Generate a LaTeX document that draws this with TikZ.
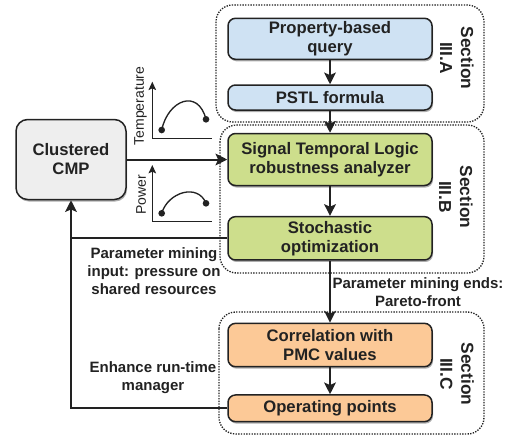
\documentclass[tikz,border=0pt]{standalone}
\usepackage{fontspec}
\setmainfont{Liberation Sans}
\usetikzlibrary{arrows.meta,shadows,calc}
\definecolor{bluefill}{HTML}{CFE2F3}
\definecolor{greenfill}{HTML}{CDDE8C}
\definecolor{orangefill}{HTML}{FCC997}
\definecolor{grayfill}{HTML}{EEEEEE}
\definecolor{ink}{HTML}{222222}
\begin{document}
\begin{tikzpicture}[x=0.6pt,y=-0.6pt,
  box/.style={draw=ink, line width=0.9pt, rounded corners=4.5pt, align=center,
    font=\fontsize{10}{11.4}\selectfont\bfseries, text=ink, inner sep=0pt,
    minimum width=122.4pt,
    drop shadow={shadow xshift=0.6pt, shadow yshift=-1.2pt, fill=black!45, opacity=0.7}},
  conn/.style={draw=ink, line width=1.2pt, -{Stealth[length=7pt,width=7pt,inset=1.5pt]}},
  plainline/.style={draw=ink, line width=1.2pt},
  axisline/.style={draw=ink, line width=0.8pt, -{Stealth[length=5pt,width=4.5pt,inset=1pt]}},
  curveline/.style={draw=ink, line width=0.8pt},
  dotmark/.style={fill=ink},
  section/.style={draw=ink, line width=0.8pt, dash pattern=on 0.8pt off 0.8pt, rounded corners=10pt},
  seclabel/.style={rotate=-90, align=center, text=ink, font=\fontsize{10.4}{12.6}\selectfont\bfseries},
  note/.style={align=center, text=ink, font=\fontsize{9}{10.7}\selectfont\bfseries},
  axlabel/.style={rotate=90, text=ink, font=\fontsize{8.4}{10}\selectfont}
]
\useasboundingbox (0,0) rectangle (509,439);

% section frames
\draw[section] (216,5) rectangle (484,122);
\draw[section] (220,125) rectangle (484,273);
\draw[section] (219,312) rectangle (484,434);

% boxes
\node[box, fill=bluefill, minimum height=24.6pt] (prop) at (330,38.8) {Property-based\\query};
\node[box, fill=bluefill, minimum height=15pt] (pstl) at (330,97.5) {PSTL formula};
\node[box, fill=greenfill, minimum height=31.2pt] (stl) at (330,159.5) {Signal Temporal Logic\\robustness analyzer};
\node[box, fill=greenfill, minimum height=26pt] (stoch) at (330,238.3) {Stochastic\\optimization};
\node[box, fill=orangefill, minimum height=26pt] (corr) at (330,345) {Correlation with\\PMC values};
\node[box, fill=orangefill, minimum height=16pt] (op) at (330,408.3) {Operating points};
\node[box, fill=grayfill, minimum width=66pt, minimum height=48pt, rounded corners=7pt] (cmp) at (71,159.5) {Clustered\\CMP};

% section labels
\node[seclabel] (secA) at (457,58) {Section\\III.A};
\node[seclabel] (secB) at (456,197) {Section\\III.B};
\node[seclabel] (secC) at (457,374) {Section\\III.C};

% connectors
\draw[conn] (prop) -- (pstl);
\draw[conn] (pstl) -- (stl);
\draw[conn] (stl) -- (stoch);
\draw[conn] (stoch) -- (corr);
\draw[conn] (corr) -- (op);
\draw[conn] (cmp.east) -- (stl.west);
\draw[conn] (op.west) -- (op.west -| cmp.south) -- (cmp.south);
\draw[plainline] (stoch.west) -- (stoch.west -| cmp.south);

% notes
\node[note] (minin) at (154,271) {Parameter mining\\input: pressure on\\shared resources};
\node[note] (enh) at (153,377.5) {Enhance run-time\\manager};
\node[note] (minend) at (418,292.5) {Parameter mining ends:\\Pareto-front};

% temperature plot
\coordinate (tO) at (152.3,138.3);
\coordinate (tY) at (152.3,81.7);
\coordinate (tX) at (211.7,138.3);
\coordinate (tS) at (161.7,130);
\coordinate (tE) at (206,119.3);
\draw[axisline] (tX) -- (tO) -- (tY);
\draw[curveline] (tS) .. controls (168,100) and (198,88) .. (tE);
\fill[dotmark] (tS) circle (2pt);
\fill[dotmark] (tE) circle (2pt);
\node[axlabel] (tlab) at (140.5,106) {Temperature};

% power plot
\coordinate (pO) at (152.3,221.7);
\coordinate (pY) at (152.3,165);
\coordinate (pX) at (211.7,221.7);
\coordinate (pS) at (161.7,213.3);
\coordinate (pE) at (206,203.3);
\draw[axisline] (pX) -- (pO) -- (pY);
\draw[curveline] (pS) .. controls (168,192) and (198,183) .. (pE);
\fill[dotmark] (pS) circle (2pt);
\fill[dotmark] (pE) circle (2pt);
\node[axlabel] (plab) at (141,195) {Power};
\end{tikzpicture}
\end{document}
